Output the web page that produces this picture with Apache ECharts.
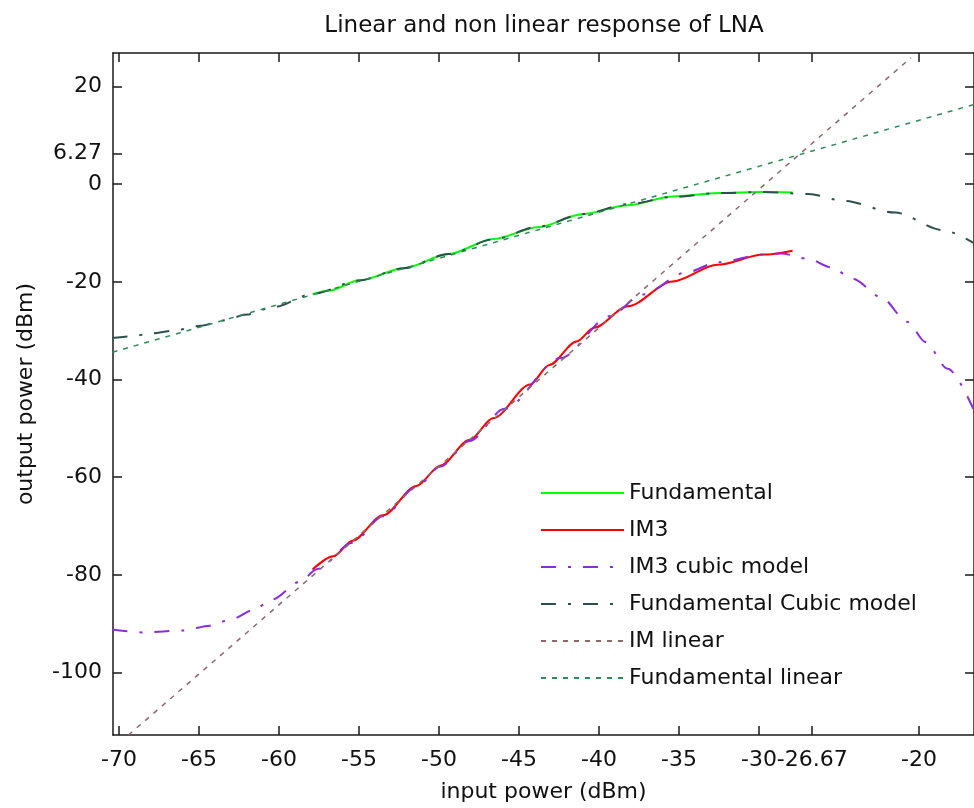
<!DOCTYPE html>
<html>
<head>
<meta charset="utf-8">
<title>Linear and non linear response of LNA</title>
<script src="https://cdn.jsdelivr.net/npm/echarts@6/dist/echarts.min.js"></script>
<style>
    html, body { margin: 0; padding: 0; background: #fff; }
    #chart { width: 974px; height: 808px; }
</style>
</head>
<body>
<div id="chart"></div>
<script>
// 读图得到的数据 (输入功率 dBm / 输出功率 dBm)
var fundIn  = [-57.9, -56.9, -55.0, -52.2, -49.4, -46.6, -43.8, -41.0, -38.2, -35.4, -32.5, -29.7, -27.9];
var fundOut = [-22.5, -21.8, -19.7, -17.2, -14.3, -11.2, -8.8, -6.1, -4.3, -2.5, -1.8, -1.6, -1.7];

var im3In  = [-57.9, -56.6, -55.4, -53.5, -51.4, -49.9, -48.1, -46.6, -44.3, -43.1, -41.4, -40.3, -38.2, -35.4, -32.6, -29.7, -27.9];
var im3Out = [-78.9, -76.2, -73.0, -67.8, -61.8, -57.6, -52.4, -47.9, -41.0, -37.0, -32.2, -29.4, -25.0, -19.9, -16.5, -14.4, -13.6];

var im3CubicIn  = [-70.4, -68.5, -66.0, -64.3, -62.9, -61.6, -60.4, -58.7, -57.6, -55.4, -53.5, -51.4, -49.9, -48.1, -45.9, -42.4, -39.3, -37.3, -34.5, -32.6, -29.7, -28.6, -26.9, -25.5, -24.1, -22.4, -20.7, -19.6, -18.2, -16.6];
var im3CubicOut = [-91.2, -91.8, -91.4, -90.4, -89.0, -87.2, -85.0, -81.4, -78.8, -73.4, -68.0, -62.0, -57.8, -52.6, -46.0, -35.6, -27.0, -22.6, -18.0, -16.0, -14.4, -14.2, -15.3, -17.0, -19.4, -23.1, -28.2, -32.3, -37.8, -46.0];

var fundCubicIn  = [-70.4, -69.1, -68.1, -66.6, -64.9, -63.5, -62.0, -60.4, -57.8, -55.0, -52.2, -49.4, -46.6, -43.8, -41.0, -38.2, -35.4, -32.5, -29.7, -26.9, -24.7, -21.5, -18.5, -16.6];
var fundCubicOut = [-31.5, -31.1, -30.6, -30.0, -29.0, -27.9, -26.7, -25.2, -22.4, -19.7, -17.2, -14.3, -11.3, -8.7, -6.1, -4.1, -2.6, -1.8, -1.6, -2.0, -3.4, -5.8, -9.4, -12.0];

var imLinIn  = [-69.4, -20.5];
var imLinOut = [-112.8, 25.9];

var fundLinIn  = [-70.4, -16.6];
var fundLinOut = [-34.4, 16.3];

// 刻度
var xTicks = [-70, -65, -60, -55, -50, -45, -40, -35, -30, -26.67, -20];
var yTicks = [-100, -80, -60, -40, -20, 0, 6.27, 20];

var X_MIN = -70.37, X_MAX = -16.56;
var Y_MIN = -112.8, Y_MAX = 26.88;

var FONT = 'DejaVu Sans';

function pairs(xs, ys) {
    var out = [];
    for (var i = 0; i < xs.length; i++) {
        out.push([xs[i], ys[i]]);
    }
    return out;
}

function makeAxis(ticks, min, max, pos, showLabel) {
    return {
        type: 'value',
        position: pos,
        min: min,
        max: max,
        axisLine: { show: true, onZero: false, lineStyle: { color: '#1a1a1a', width: 1.5 } },
        axisTick: { show: true, inside: true, length: 9, customValues: ticks, lineStyle: { color: '#1a1a1a', width: 1.5 } },
        axisLabel: {
            show: showLabel,
            customValues: ticks,
            margin: pos === 'bottom' ? 14 : 11,
            color: '#111',
            fontFamily: FONT,
            fontSize: 22
        },
        splitLine: { show: false }
    };
}

function lineSeries(name, data, color, width, dash, smooth) {
    return {
        name: name,
        type: 'line',
        data: data,
        symbol: 'none',
        smooth: smooth,
        smoothMonotone: 'x',
        lineStyle: { color: color, width: width, type: dash },
        itemStyle: { color: color },
        z: 2
    };
}

var xBottom = makeAxis(xTicks, X_MIN, X_MAX, 'bottom', true);
xBottom.name = 'input power (dBm)';
xBottom.nameLocation = 'middle';
xBottom.nameGap = 46;
xBottom.nameTextStyle = { fontFamily: FONT, fontSize: 22, color: '#111' };

var yLeft = makeAxis(yTicks, Y_MIN, Y_MAX, 'left', true);
yLeft.name = 'output power (dBm)';
yLeft.nameLocation = 'middle';
yLeft.nameGap = 76;
yLeft.nameTextStyle = { fontFamily: FONT, fontSize: 22, color: '#111' };

var chart = echarts.init(document.getElementById('chart'));
chart.setOption({
    animation: false,
    backgroundColor: '#fff',
    title: {
        text: 'Linear and non linear response of LNA',
        left: 539,
        textAlign: 'center',
        top: 10,
        textStyle: { fontFamily: FONT, fontSize: 23, fontWeight: 'normal', color: '#111' }
    },
    grid: { left: 113, top: 53, width: 862, height: 685, containLabel: false },
    legend: {
        orient: 'vertical',
        left: 535,
        top: 477,
        itemWidth: 83,
        itemHeight: 14,
        itemGap: 15,
        itemStyle: { opacity: 0 },
        textStyle: { fontFamily: FONT, fontSize: 22, color: '#111' },
        data: ['Fundamental', 'IM3', 'IM3 cubic model', 'Fundamental Cubic model', 'IM linear', 'Fundamental linear']
    },
    xAxis: [xBottom, makeAxis(xTicks, X_MIN, X_MAX, 'top', false)],
    yAxis: [yLeft, makeAxis(yTicks, Y_MIN, Y_MAX, 'right', false)],
    series: [
        lineSeries('Fundamental', pairs(fundIn, fundOut), '#00ff00', 2, 'solid', 0.3),
        lineSeries('IM3', pairs(im3In, im3Out), '#ff0000', 2, 'solid', 0.3),
        lineSeries('IM3 cubic model', pairs(im3CubicIn, im3CubicOut), '#8a2be2', 2, [15, 12, 3, 12], 0.3),
        lineSeries('Fundamental Cubic model', pairs(fundCubicIn, fundCubicOut), '#2f4f4f', 2, [15, 12, 3, 12], 0.3),
        lineSeries('IM linear', pairs(imLinIn, imLinOut), '#8b6969', 1.5, [5, 6], false),
        lineSeries('Fundamental linear', pairs(fundLinIn, fundLinOut), '#2e8b57', 1.5, [5, 6], false)
    ]
});
</script>
</body>
</html>
